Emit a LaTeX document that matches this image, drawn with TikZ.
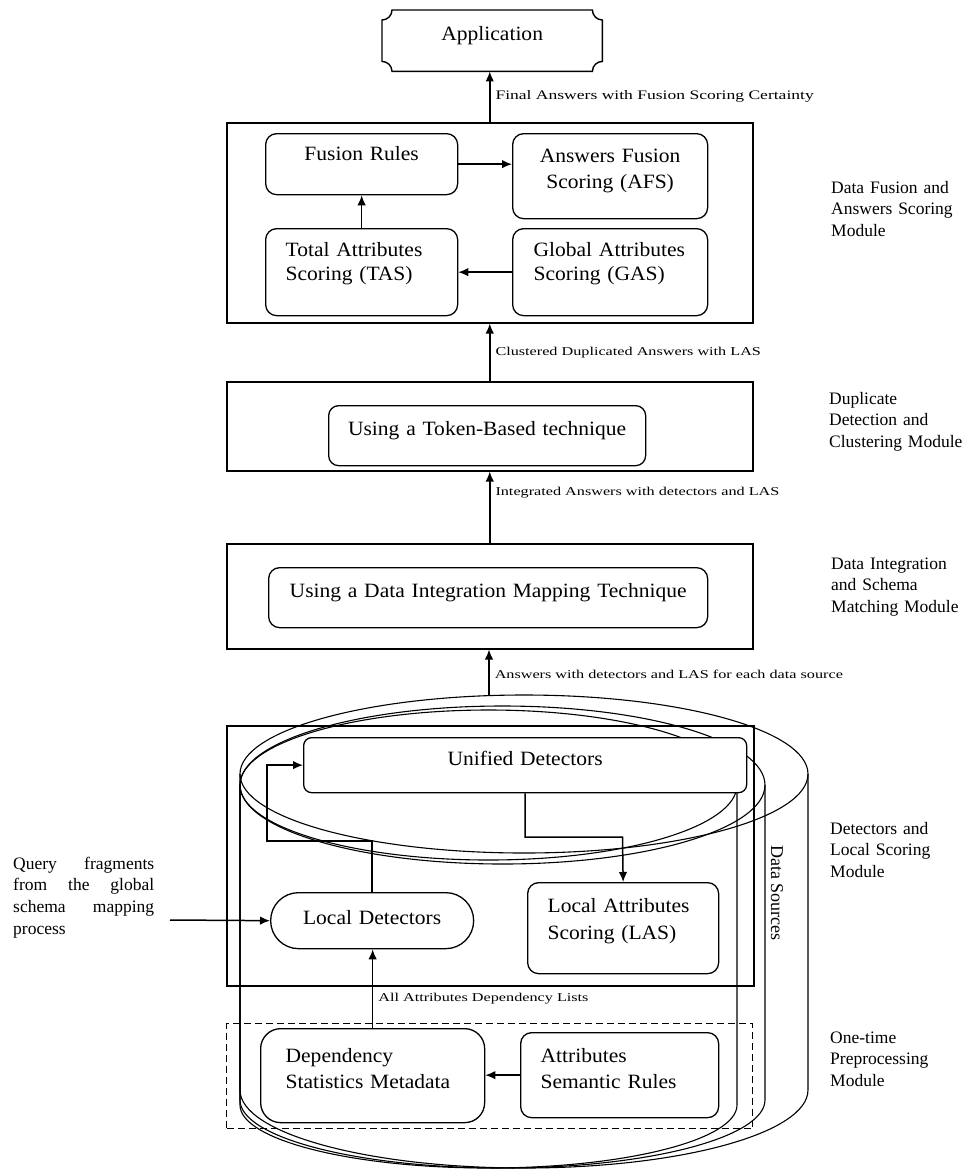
\documentclass[tikz,border=0pt]{standalone}
\usepackage{fontspec}
\setmainfont{Liberation Serif}
\newfontfamily\boxfont{Liberation Serif}[FakeStretch=1.06]
\newfontfamily\tinyfont{Liberation Serif}[FakeStretch=1.35]
\usetikzlibrary{arrows.meta,calc}
\begin{document}
\begin{tikzpicture}[x=1pt,y=-1pt,
  outer/.style={draw, line width=1.5pt, inner sep=0pt, anchor=north west, minimum width=526pt},
  ib/.style={draw, fill=white, line width=1.3pt, rounded corners=11pt, inner ysep=0pt, anchor=north west},
  bf/.style={font={\boxfont\fontsize{20.3}{#1}\selectfont}},
  arr/.style={line width=1.5pt, -{Latex[length=10pt,width=8.5pt]}},
  lab/.style={font={\tinyfont\fontsize{12}{14}\selectfont}, anchor=west, inner sep=0pt, xshift=5pt},
  mod/.style={font={\fontsize{17.5}{21.5}\selectfont}, text width=140pt, align=left, anchor=base west, inner sep=0pt},
  cyl/.style={line width=1.1pt}]
\useasboundingbox (0,0) rectangle (964,1171);

% data source cylinders
\draw[cyl] (524,774) ellipse [x radius=284pt, y radius=79pt];
\draw[cyl] (240,774) -- (240,1090) arc[start angle=180, end angle=360, x radius=284pt, y radius=78pt] -- (808,774);
\draw[cyl] (502.5,785) ellipse [x radius=262.5pt, y radius=79pt];
\draw[cyl] (240,785) -- (240,1100) arc[start angle=180, end angle=360, x radius=262.5pt, y radius=68pt] -- (765,785);
\draw[cyl] (488.5,785) ellipse [x radius=248.5pt, y radius=75pt];
\draw[cyl] (240,785) -- (240,1105) arc[start angle=180, end angle=360, x radius=248.5pt, y radius=63pt] -- (737,785);

% module frames
\node[outer, minimum height=200pt] (fus) at (226,122) {};
\node[outer, minimum height=89pt] (dup) at (226,381) {};
\node[outer, minimum height=105pt] (di) at (226,543) {};
\node[outer, minimum height=260pt, minimum width=527pt] (det) at (226,725) {};
\node[outer, minimum height=105pt, line width=1.3pt, dash pattern=on 7pt off 4pt] (pre) at (226,1023) {};

% application
\node[inner sep=0pt, minimum width=220pt, text height=30pt, text depth=31pt, anchor=north west, bf=24] (app) at (382,10) {Application};
\draw[line width=1.4pt]
  ($(app.north west)+(10,0)$) -- ($(app.north east)+(-10,0)$)
  .. controls ($(app.north east)+(-10,5.5)$) and ($(app.north east)+(-5.5,10)$) .. ($(app.north east)+(0,10)$)
  -- ($(app.south east)+(0,-10)$)
  .. controls ($(app.south east)+(-5.5,-10)$) and ($(app.south east)+(-10,-5.5)$) .. ($(app.south east)+(-10,0)$)
  -- ($(app.south west)+(10,0)$)
  .. controls ($(app.south west)+(10,-5.5)$) and ($(app.south west)+(5.5,-10)$) .. ($(app.south west)+(0,-10)$)
  -- ($(app.north west)+(0,10)$)
  .. controls ($(app.north west)+(5.5,10)$) and ($(app.north west)+(10,5.5)$) .. cycle;

% inner boxes
\node[ib, bf=24, inner xsep=10pt, text width=172pt, text height=27pt, text depth=34pt, align=center] (fr) at (265,133) {Fusion Rules};
\node[ib, bf=26, inner xsep=10pt, text width=175pt, text height=29pt, text depth=56pt, align=center] (afs) at (512,133) {Answers Fusion\\Scoring (AFS)};
\node[ib, bf=24, inner xsep=20pt, text width=152pt, text height=28pt, text depth=59pt, align=left] (tas) at (265,228) {\mbox{Total Attributes}\\\mbox{Scoring (TAS)}};
\node[ib, bf=24, inner xsep=21pt, text width=153pt, text height=28pt, text depth=59pt, align=left] (gas) at (512,228) {\mbox{Global Attributes}\\\mbox{Scoring (GAS)}};
\node[ib, bf=24, inner xsep=10pt, text width=297pt, text height=30pt, text depth=30pt, align=center, rounded corners=10pt] (tok) at (328,405) {Using a Token-Based technique};
\node[ib, bf=24, inner xsep=10pt, text width=419pt, text height=30pt, text depth=30pt, align=center] (dii) at (268,567) {Using a Data Integration Mapping Technique};
\node[ib, bf=24, inner xsep=10pt, text width=423pt, text height=28pt, text depth=27pt, align=center, rounded corners=8pt] (ud) at (303,737) {Unified Detectors};
\node[ib, bf=24, inner xsep=10pt, text width=183pt, text height=32pt, text depth=24pt, align=center, rounded corners=27.9pt] (ld) at (270,892) {Local Detectors};
\node[ib, bf=27, inner xsep=20pt, text width=151pt, text height=30pt, text depth=61pt, align=left] (las) at (527,882) {\mbox{Local Attributes}\\\mbox{Scoring (LAS)}};
\node[ib, bf=26, inner xsep=25pt, text width=174pt, text height=34pt, text depth=60pt, align=left, rounded corners=20pt] (dep) at (260,1028) {Dependency\\\mbox{Statistics Metadata}};
\node[ib, bf=26, inner xsep=20pt, text width=158pt, text height=30pt, text depth=55pt, align=left] (att) at (520,1032) {Attributes\\\mbox{Semantic Rules}};

% connectors between modules
\draw[arr] (fus.north) -- node[lab, pos=0.5, font={\tinyfont\fontsize{13}{15}\selectfont}] (l1) {Final Answers with Fusion Scoring Certainty} (fus.north |- app.south);
\draw[arr] (dup.north) -- node[lab, pos=0.5] (l2) {Clustered Duplicated Answers with LAS} (dup.north |- fus.south);
\draw[arr] (di.north) -- node[lab, pos=0.71] (l3) {Integrated Answers with detectors and LAS} (di.north |- dup.south);
\coordinate (cyltop) at (489,695.6);
\draw[arr] (cyltop) -- node[lab, pos=0.47] (l4) {Answers with detectors and LAS for each data source} (cyltop |- di.south);

% connectors inside modules
\draw[arr] (fr.east) -- (fr.east -| afs.west);
\draw[arr] (gas.west) -- (gas.west -| tas.east);
\draw[arr] (tas.north) -- (fr.south);
\coordinate (bl) at (267,841);
\coordinate (br) at (622.5,837);
\draw[arr] (ld.north) |- (bl) |- (ud.west);
\draw[arr] (ud.south) |- (br) -- (las.north);
\coordinate (qs) at (170,920);
\draw[arr] (qs) -- (ld.west);
\draw[arr] (dep.north) -- node[lab, pos=0.375] (l5) {All Attributes Dependency Lists} (dep.north |- ld.south);
\draw[arr] (att.west) -- (att.west -| dep.east);

% side texts
\node[font={\fontsize{17.5}{21.7}\selectfont}, text width=141pt, align=left, anchor=base west, inner sep=0pt] (q) at (13,869) {Query\hfill fragments\\from\hfill the\hfill global\\schema\hfill mapping\\process};
\node[rotate=-90, font={\fontsize{18}{20}\selectfont}, inner sep=0pt] (ds) at (777,893) {Data Sources};

\node[mod] (m1) at (831,193) {Data Fusion and\\Answers Scoring\\Module};
\node[mod] (m2) at (829,404) {Duplicate\\Detection and\\Clustering Module};
\node[mod] (m3) at (831,569) {Data Integration\\and Schema\\Matching Module};
\node[mod] (m4) at (830,834) {Detectors and\\Local Scoring\\Module};
\node[mod] (m5) at (830,1043) {One-time\\Preprocessing\\Module};
\end{tikzpicture}
\end{document}
